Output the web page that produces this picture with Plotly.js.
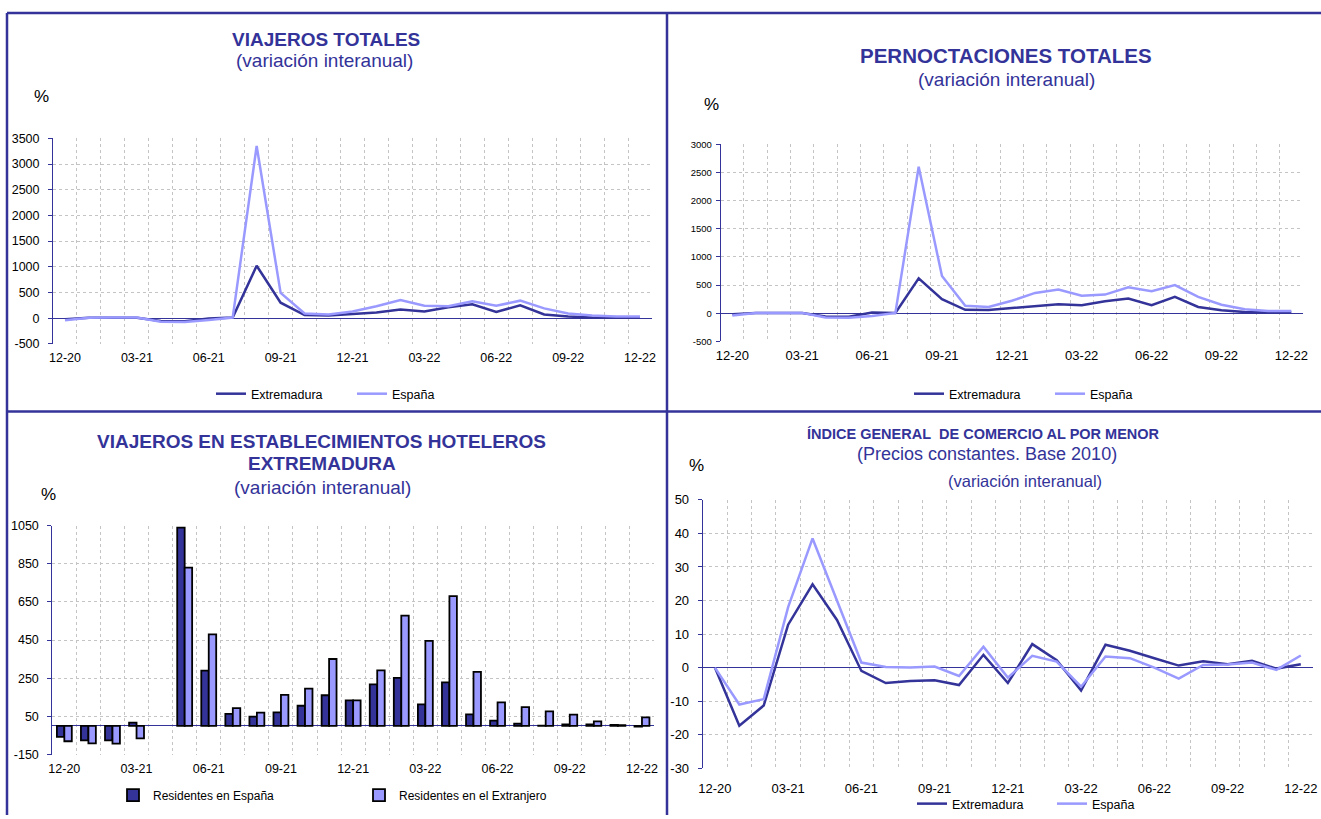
<!DOCTYPE html>
<html>
<head>
<meta charset="utf-8">
<script src="https://cdn.plot.ly/plotly-3.0.1.min.js"></script>
<style>
html,body{margin:0;padding:0;background:#ffffff;}
#chart{width:1321px;height:819px;}
</style>
</head>
<body>
<div id="chart"></div>
<script>
// ---------- DATA ----------
const months = ['12-20','01-21','02-21','03-21','04-21','05-21','06-21','07-21','08-21','09-21','10-21','11-21','12-21','01-22','02-22','03-22','04-22','05-22','06-22','07-22','08-22','09-22','10-22','11-22','12-22'];
const monthLabels = ['12-20','','','03-21','','','06-21','','','09-21','','','12-21','','','03-22','','','06-22','','','09-22','','','12-22'];

// Viajeros totales (variación interanual, %)
const viajerosExtremadura = [-20, 5, 5, 5, -55, -60, -5, 10, 1020, 300, 60, 50, 80, 110, 170, 130, 210, 270, 120, 250, 70, 30, 10, 5, 5];
const viajerosEspana      = [-40, 5, 10, 10, -70, -75, -35, 10, 3350, 490, 90, 70, 130, 230, 350, 240, 230, 330, 240, 340, 190, 90, 50, 30, 30];

// Pernoctaciones totales (variación interanual, %)
const pernoctExtremadura = [-20, 5, 5, 5, -60, -65, 10, 5, 620, 250, 60, 55, 90, 130, 160, 140, 210, 260, 140, 290, 110, 50, 20, 10, 10];
const pernoctEspana      = [-40, 5, 5, 5, -75, -80, -50, 5, 2600, 660, 130, 110, 220, 360, 420, 310, 330, 460, 390, 500, 290, 150, 70, 40, 40];

// Viajeros en establecimientos hoteleros Extremadura (variación interanual, %)
const residentesEspana     = [-57, -75, -75, 18, null, 1040, 290, 63, 49, 71, 106, 161, 134, 218, 252, 113, 228, 61, 28, 12, 2, 8, 8, 6, -3];
const residentesExtranjero = [-80, -91, -93, -65, null, 830, 480, 94, 70, 163, 196, 351, 134, 291, 578, 446, 680, 283, 124, 99, 77, 59, 24, 4, 45];

// Índice general de comercio al por menor (variación interanual, %)
const comercioExtremadura = [0, -17.3, -11.3, 12.8, 24.8, 14.2, -1.0, -4.6, -4.0, -3.8, -5.2, 3.8, -4.6, 7.0, 2.2, -6.8, 6.8, 5.0, 2.8, 0.6, 1.9, 1.0, 2.0, -0.3, 1.0];
const comercioEspana      = [0, -11.0, -9.4, 18.0, 38.5, 20.0, 1.5, 0.2, 0.0, 0.3, -2.5, 6.2, -3.0, 3.5, 1.8, -5.7, 3.3, 2.8, 0.0, -3.3, 0.8, 0.9, 1.5, -0.7, 3.6];

// Y tick labels
const yTicks1 = [-500, 0, 500, 1000, 1500, 2000, 2500, 3000, 3500];
const yTickText1 = ['-500','0','500','1000','1500','2000','2500','3000','3500'];
const yTicks2 = [-500, 0, 500, 1000, 1500, 2000, 2500, 3000];
const yTickText2 = ['-500','0','500','1000','1500','2000','2500','3000'];
const yTicks3 = [-150, 50, 250, 450, 650, 850, 1050];
const yTickText3 = ['-150','50','250','450','650','850','1050'];
const yTicks4 = [-30, -20, -10, 0, 10, 20, 30, 40, 50];
const yTickText4 = ['-30','-20','-10','0','10','20','30','40','50'];

// ---------- STYLE ----------
const W = 1321, H = 819;
const X = px => px / W;
const Y = py => 1 - py / H;
const DARK = '#333399';
const LIGHT = '#9999ff';
const GRID = '#c4c4c4';
const FONT = 'Liberation Sans, Arial, sans-serif';

function xAxis(domain, size, standoff) {
  return {
    type: 'category', domain: domain, range: [-0.5, 24.5],
    tickmode: 'array', tickvals: months, ticktext: monthLabels, tickangle: 0,
    tickson: 'boundaries', ticks: '', showgrid: true, gridcolor: GRID, griddash: 'dot', gridwidth: 1,
    showline: false, zeroline: false, fixedrange: true,
    tickfont: {family: FONT, size: size, color: '#000'}, ticklabelstandoff: standoff
  };
}
function yAxis(domain, range, vals, text, size, standoff) {
  return {
    domain: domain, range: range, tickmode: 'array', tickvals: vals, ticktext: text,
    showline: true, linecolor: DARK, linewidth: 1, ticks: 'outside', ticklen: 4, tickcolor: DARK,
    showgrid: true, gridcolor: GRID, griddash: 'dot', gridwidth: 1,
    zeroline: true, zerolinecolor: DARK, zerolinewidth: 1, fixedrange: true,
    tickfont: {family: FONT, size: size, color: '#000'}, ticklabelstandoff: standoff
  };
}

const traces = [
  {type:'scatter', mode:'lines', x: months, y: viajerosExtremadura, name:'Extremadura', xaxis:'x', yaxis:'y', legend:'legend', line:{color:DARK, width:2.5}},
  {type:'scatter', mode:'lines', x: months, y: viajerosEspana, name:'España', xaxis:'x', yaxis:'y', legend:'legend', line:{color:LIGHT, width:2.5}},
  {type:'scatter', mode:'lines', x: months, y: pernoctExtremadura, name:'Extremadura', xaxis:'x2', yaxis:'y2', legend:'legend2', line:{color:DARK, width:2.5}},
  {type:'scatter', mode:'lines', x: months, y: pernoctEspana, name:'España', xaxis:'x2', yaxis:'y2', legend:'legend2', line:{color:LIGHT, width:2.5}},
  {type:'bar', x: months, y: residentesEspana, name:'Residentes en España', xaxis:'x3', yaxis:'y3', legend:'legend3', marker:{color:DARK, line:{color:'#000', width:1.8}}},
  {type:'bar', x: months, y: residentesExtranjero, name:'Residentes en el Extranjero', xaxis:'x3', yaxis:'y3', legend:'legend3', marker:{color:LIGHT, line:{color:'#000', width:1.8}}},
  {type:'scatter', mode:'lines', x: months, y: comercioExtremadura, name:'Extremadura', xaxis:'x4', yaxis:'y4', legend:'legend4', line:{color:DARK, width:2.5}},
  {type:'scatter', mode:'lines', x: months, y: comercioEspana, name:'España', xaxis:'x4', yaxis:'y4', legend:'legend4', line:{color:LIGHT, width:2.5}}
];

function legend(xpx, ypx, entry, size) {
  return {x: X(xpx), xanchor:'left', y: Y(ypx), yanchor:'middle', orientation:'h',
          entrywidth: entry, entrywidthmode:'pixels', bgcolor:'rgba(0,0,0,0)', borderwidth:0,
          font:{family:FONT, size:size, color:'#000'}, traceorder:'normal'};
}

function ann(text, xpx, ypx, size, color) {
  return {text:text, x:X(xpx), y:Y(ypx), xref:'paper', yref:'paper', xanchor:'center', yanchor:'middle',
          showarrow:false, font:{family:FONT, size:size, color:color || DARK}};
}

function line(x0, y0, x1, y1) {
  return {type:'line', xref:'paper', yref:'paper', x0:X(x0), y0:Y(y0), x1:X(x1), y1:Y(y1),
          line:{color:DARK, width:2.5}, layer:'above'};
}

const layout = {
  width: W, height: H, margin: {l:0, r:0, t:0, b:0},
  paper_bgcolor: '#ffffff', plot_bgcolor: '#ffffff',
  font: {family: FONT, color: '#000'},
  barmode: 'group', bargap: 0.38, bargroupgap: 0,
  xaxis:  xAxis([X(53), X(652)], 12.5, 5),
  yaxis:  yAxis([Y(345.5), Y(139)], [-500, 3500], yTicks1, yTickText1, 12.5, 6),
  xaxis2: Object.assign(xAxis([X(720.7), X(1303)], 13, 5), {anchor:'y2'}),
  yaxis2: Object.assign(yAxis([Y(343), Y(145)], [-500, 3000], yTicks2, yTickText2, 9.5, 2), {anchor:'x2'}),
  xaxis3: Object.assign(xAxis([X(52.3), X(654)], 12.5, 5), {anchor:'y3'}),
  yaxis3: Object.assign(yAxis([Y(758.3), Y(528.2)], [-150, 1050], yTicks3, yTickText3, 12.5, 6), {anchor:'x3'}),
  xaxis4: Object.assign(xAxis([X(702.7), X(1313)], 13, 11), {anchor:'y4'}),
  yaxis4: Object.assign(yAxis([Y(772), Y(502.3)], [-30, 50], yTicks4, yTickText4, 13, 6), {anchor:'x4'}),
  legend:  legend(211, 396, 96, 12.5),
  legend2: legend(909, 396, 96, 12.5),
  legend3: legend(113, 799, 201, 12),
  legend4: legend(912, 808, 95, 12.5),
  annotations: [
    ann('<b>VIAJEROS TOTALES</b>', 325.5, 40, 19),
    ann('(variación interanual)', 324.5, 61, 19),
    ann('%', 41, 97, 17, '#000'),
    ann('<b>PERNOCTACIONES TOTALES</b>', 1005.5, 56, 20.5),
    ann('(variación interanual)', 1006, 80, 19),
    ann('%', 711, 105, 17, '#000'),
    ann('<b>VIAJEROS EN ESTABLECIMIENTOS HOTELEROS</b>', 321.5, 444, 19),
    ann('<b>EXTREMADURA</b>', 322, 466, 19),
    ann('(variación interanual)', 322.5, 490, 19),
    ann('%', 48, 497, 17, '#000'),
    ann('<b>ÍNDICE GENERAL&nbsp; DE COMERCIO AL POR MENOR</b>', 983, 436, 14.5),
    ann('(Precios constantes. Base 2010)', 986.5, 456, 18),
    ann('(variación interanual)', 1025, 483, 16.5),
    ann('%', 696, 468, 17, '#000')
  ],
  shapes: [
    line(7, 13, 1321, 13),
    line(7, 413.5, 1321, 413.5),
    line(7, 13, 7, 819),
    line(667, 13, 667, 819)
  ]
};

Plotly.newPlot('chart', traces, layout, {displayModeBar:false, staticPlot:true});
</script>
</body>
</html>
